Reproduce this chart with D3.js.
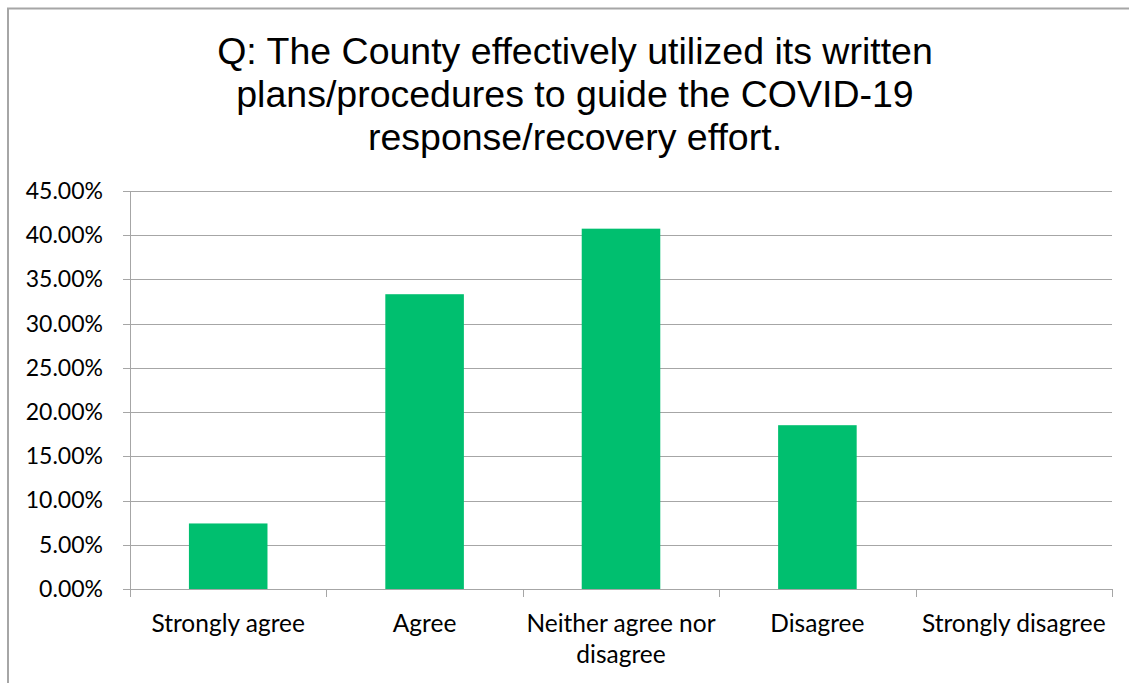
<!DOCTYPE html>
<html>
<head>
<meta charset="utf-8">
<script src="https://cdn.jsdelivr.net/npm/d3@7"></script>
<style>
  body { margin: 0; background: #fff; }
  svg { display: block; }
</style>
</head>
<body>
<div id="vis"></div>
<script>
// data
var categories = ["Strongly agree", "Agree", "Neither agree nor disagree", "Disagree", "Strongly disagree"]
var values = [7.41, 33.33, 40.74, 18.52, 0]
var yTicks = [0, 5, 10, 15, 20, 25, 30, 35, 40, 45]
var titleLines = ["Q: The County effectively utilized its written",
                  "plans/procedures to guide the COVID-19",
                  "response/recovery effort."]

var W = 1129, H = 683
var margin = {top: 191, right: 17, bottom: 94, left: 130},
    width = W - margin.left - margin.right,
    height = H - margin.top - margin.bottom

var svg = d3.select("#vis").append("svg")
    .attr("width", W)
    .attr("height", H)

// chart area border (only top and left visible)
svg.append("path")
    .attr("d", "M8," + H + "V8.5H" + W)
    .attr("fill", "none")
    .attr("stroke", "#a6a6a6")
    .attr("stroke-width", 2)

// title
svg.append("text")
    .attr("text-anchor", "middle")
    .style("font-family", "Liberation Sans, Arial, sans-serif")
    .style("font-size", "37.5px")
    .attr("fill", "#000")
  .selectAll("tspan")
    .data(titleLines)
    .enter().append("tspan")
    .attr("x", 575)
    .attr("y", function(d, i) { return 64 + i * 43 })
    .text(function(d) { return d })

var g = svg.append("g")
    .attr("transform", "translate(" + margin.left + "," + margin.top + ")")

var x = d3.scaleBand()
    .domain(categories)
    .range([0, width])
    .paddingInner(0.6)
    .paddingOuter(0.3)

var y = d3.scaleLinear()
    .domain([0, 45])
    .range([height, 0])

// gridlines
g.append("g")
    .selectAll("line")
    .data(yTicks)
    .enter().append("line")
    .attr("x1", -7)
    .attr("x2", width)
    .attr("y1", function(d) { return Math.round(y(d)) + 0.5 })
    .attr("y2", function(d) { return Math.round(y(d)) + 0.5 })
    .attr("stroke", "#a6a6a6")
    .attr("stroke-width", 1)

// y axis
var yAxis = g.append("g")
    .call(d3.axisLeft(y).tickValues(yTicks).tickSize(0).tickPadding(27)
      .tickFormat(function(d) { return d.toFixed(2) + "%" }))
yAxis.select(".domain").remove()
yAxis.selectAll("text")
    .style("font-family", "Lato, Carlito, Calibri, sans-serif")
    .style("font-size", "23px")
    .attr("fill", "#000")

g.append("line")
    .attr("x1", 0.5).attr("x2", 0.5)
    .attr("y1", 0).attr("y2", height)
    .attr("stroke", "#a6a6a6")

// x axis boundary ticks
var bounds = d3.range(categories.length + 1)
g.append("g")
    .selectAll("line")
    .data(bounds)
    .enter().append("line")
    .attr("x1", function(d) { return Math.round(d * width / categories.length) + 0.5 })
    .attr("x2", function(d) { return Math.round(d * width / categories.length) + 0.5 })
    .attr("y1", height)
    .attr("y2", height + 8)
    .attr("stroke", "#a6a6a6")

// bars
g.selectAll("rect.bar")
    .data(values)
    .enter().append("rect")
    .attr("class", "bar")
    .attr("x", function(d, i) { return x(categories[i]) })
    .attr("width", x.bandwidth())
    .attr("y", function(d) { return y(d) })
    .attr("height", function(d) { return height - y(d) })
    .attr("fill", "#00bf6f")

// category labels (wrapped)
var labelLines = {
  "Neither agree nor disagree": ["Neither agree nor", "disagree"]
}
var lab = g.append("g")
    .selectAll("text")
    .data(categories)
    .enter().append("text")
    .attr("text-anchor", "middle")
    .style("font-family", "Lato, Carlito, Calibri, sans-serif")
    .style("font-size", "24.5px")
    .attr("fill", "#000")
lab.selectAll("tspan")
    .data(function(d) { return (labelLines[d] || [d]).map(function(t) { return {cat: d, t: t} }) })
    .enter().append("tspan")
    .attr("x", function(d) { return x(d.cat) + x.bandwidth() / 2 })
    .attr("y", function(d, i) { return height + 43 + i * 31 })
    .text(function(d) { return d.t })
</script>
</body>
</html>
